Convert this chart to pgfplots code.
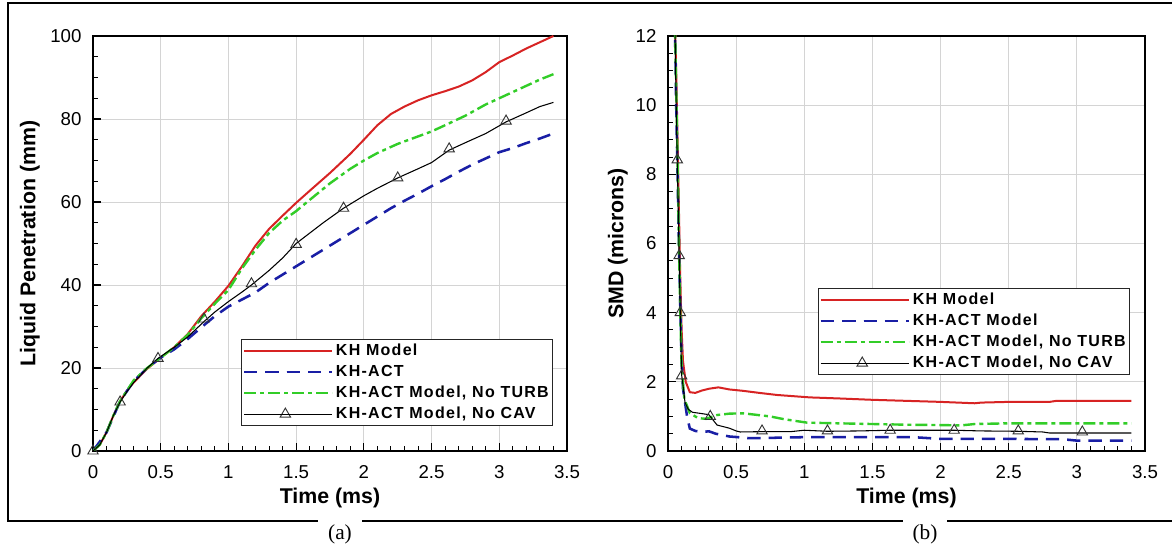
\documentclass[border=0pt]{standalone}
\usepackage{fontspec}
\setmainfont{Liberation Sans}
\newfontfamily\serif{Liberation Serif}
\newfontfamily\legfont[LetterSpace=8]{Liberation Sans}
\usepackage{pgfplots}
\pgfplotsset{compat=1.18}

\definecolor{kred}{RGB}{215,35,35}
\definecolor{kblue}{RGB}{25,30,165}
\definecolor{kgreen}{RGB}{50,205,40}

\newcommand{\labfont}{\bfseries\fontsize{16}{18}\selectfont}

\pgfplotsset{
 panel/.style={
  scale only axis, height=311.25pt,
  xmin=0, xmax=3.5, xtick={0,0.5,1,1.5,2,2.5,3,3.5},
  minor x tick num=4, minor y tick num=3,
  tick pos=left, tick align=inside,
  grid=major, major grid style={draw=black!17, line width=0.7pt},
  axis line style={line width=1.3pt},
  major tick style={black,line width=0.9pt}, major tick length=6pt,
  minor tick style={black,line width=0.7pt}, minor tick length=3.5pt,
  /pgf/number format/assume math mode=true,
  ticklabel style={font=\fontsize{14}{16}\selectfont},
  xticklabel style={inner sep=0pt, anchor=center, yshift=-15.75pt},
  yticklabel style={inner sep=0pt, anchor=east, xshift=-8.5pt},
  xlabel={Time (ms)},
  every axis x label/.style={at={(axis description cs:0.5,-0.113)}, anchor=center, font=\labfont},
  clip mode=individual,
  legend cell align=left,
  legend style={draw=black!85, line width=0.8pt, fill=white, anchor=north west,
    inner xsep=1pt, inner ysep=1pt,
    font=\legfont\bfseries\fontsize{12}{14}\selectfont,
    nodes={inner ysep=2.1pt, inner xsep=2pt, text height=9pt, text depth=2.5pt}},
  legend image code/.code={\draw[##1] (0pt,0pt) -- (62pt,0pt); \path (0pt,0pt) -- (66pt,0pt);},
 },
 khs/.style={color=kred, line width=1.5pt, no marks},
 acts/.style={color=kblue, line width=1.9pt, no marks, dash pattern=on 10pt off 6pt},
 turbs/.style={color=kgreen, line width=1.8pt, no marks, dash pattern=on 9pt off 3pt on 3pt off 3pt},
 cavs/.style={color=black, line width=0.8pt, no marks},
 trimarks/.style={only marks, mark=triangle, mark size=4.5pt, mark options={draw=black!80, line width=0.7pt, fill=none},
   legend image code/.code={\draw[black, line width=0.8pt] (0pt,0pt) -- (62pt,0pt);
     \draw[black!80, line width=0.7pt] plot[mark=triangle, mark size=4.5pt] coordinates {(31pt,0pt)};
     \path (0pt,0pt) -- (66pt,0pt);}},
}

\begin{document}
\begin{tikzpicture}
\useasboundingbox (0pt,0pt) rectangle (879pt,409.5pt);

% ---------------- panel (a) ----------------
\begin{axis}[panel, at={(69.75pt,71.25pt)}, anchor=south west, width=355.5pt,
  ymin=0, ymax=100, ytick={0,20,40,60,80,100},
  ylabel={Liquid Penetration (mm)},
  every axis y label/.style={at={(axis description cs:-0.133,0.5)}, rotate=90, anchor=center, font=\labfont},
  legend style={at={(0.312,0.270)}}]
\addplot[khs] coordinates {
(0,0) (0.05,1.5) (0.1,4.5) (0.15,8.5) (0.2,12) (0.25,14.5) (0.3,16.5) (0.4,19.8)
(0.5,22.5) (0.6,25) (0.7,28.2) (0.8,32.5) (0.9,36) (1.0,39.8) (1.1,44.5) (1.2,49.5)
(1.3,53.5) (1.4,56.7) (1.5,59.8) (1.6,62.7) (1.75,67) (1.9,71.6) (2.0,75) (2.1,78.5)
(2.2,81.2) (2.3,83) (2.4,84.5) (2.5,85.7) (2.6,86.7) (2.7,87.8) (2.8,89.3) (2.9,91.3)
(3.0,93.7) (3.1,95.3) (3.2,97) (3.3,98.5) (3.4,100)};
\addlegendentry{KH Model}
\addplot[acts] coordinates {
(0,0) (0.1,4.5) (0.2,12) (0.3,16.8) (0.4,20) (0.5,22.5) (0.6,24.5) (0.7,27) (0.8,29.8)
(0.9,32.5) (1.0,34.8) (1.1,36.5) (1.2,38.2) (1.3,40.5) (1.4,42.5) (1.5,44.5) (1.6,46.5)
(1.7,48.5) (1.8,50.5) (1.9,52.5) (2.0,54.5) (2.1,56.5) (2.2,58.5) (2.3,60.3) (2.4,62)
(2.5,63.8) (2.6,65.5) (2.7,67.3) (2.8,69) (2.9,70.5) (3.0,72) (3.1,73) (3.2,74.2)
(3.3,75.3) (3.4,76.5)};
\addlegendentry{KH-ACT}
\addplot[turbs] coordinates {
(0,0) (0.05,1.5) (0.1,4.5) (0.15,8.5) (0.2,12) (0.3,17) (0.4,20) (0.5,22.5) (0.6,25)
(0.7,28) (0.8,32) (0.9,35.5) (1.0,38.8) (1.1,44) (1.2,48.5) (1.3,52.5) (1.4,55.5)
(1.5,57.8) (1.6,60.5) (1.75,64.5) (1.9,68) (2.0,70) (2.1,71.8) (2.25,74) (2.4,75.8)
(2.5,77) (2.6,78.5) (2.75,80.8) (2.9,83.5) (3.0,85) (3.1,86.5) (3.2,88) (3.3,89.5) (3.4,90.8)};
\addlegendentry{KH-ACT Model, No TURB}
\addplot[cavs, forget plot] coordinates {
(0,0) (0.05,1.5) (0.1,4.5) (0.15,8.5) (0.2,11.8) (0.25,14.3) (0.3,16.5) (0.4,20)
(0.48,22.3) (0.6,25) (0.7,27.5) (0.82,31.2) (0.9,33.5) (1.0,36) (1.1,38.3) (1.17,40)
(1.3,43.5) (1.4,46.5) (1.5,50) (1.6,52.5) (1.7,55) (1.85,58.5) (2.0,61.5) (2.1,63.3)
(2.25,65.8) (2.4,68) (2.5,69.5) (2.63,72.5) (2.75,74.3) (2.9,76.5) (3.05,79.3)
(3.2,81.5) (3.3,83) (3.4,84)};
\addplot[trimarks] coordinates {
(0,0) (0.2,11.8) (0.48,22.3) (0.82,31.8) (1.17,40.3) (1.5,49.8) (1.85,58.5)
(2.25,65.8) (2.63,72.8) (3.05,79.5)};
\addlegendentry{KH-ACT Model, No CAV}
\end{axis}

% ---------------- panel (b) ----------------
\begin{axis}[panel, at={(501pt,71.25pt)}, anchor=south west, width=357.75pt,
  ymin=0, ymax=12, ytick={0,2,4,6,8,10,12},
  ylabel={SMD (microns)},
  every axis y label/.style={at={(axis description cs:-0.105,0.5)}, rotate=90, anchor=center, font=\labfont},
  legend style={at={(0.314,0.393)}}]
\addplot[khs] coordinates {
(0.05,12.5) (0.06,11) (0.07,9) (0.08,7) (0.09,5) (0.1,3.5) (0.11,2.6) (0.13,2.0)
(0.16,1.7) (0.2,1.68) (0.25,1.75) (0.3,1.8) (0.37,1.84) (0.45,1.78) (0.55,1.74)
(0.67,1.68) (0.8,1.62) (1.04,1.55) (1.25,1.52) (1.5,1.48) (1.75,1.45) (2.0,1.42)
(2.25,1.38) (2.3,1.4) (2.5,1.42) (2.8,1.42) (2.85,1.45) (3.0,1.45) (3.4,1.45)};
\addlegendentry{KH Model}
\addplot[acts] coordinates {
(0.05,12.5) (0.06,10) (0.07,8) (0.08,6) (0.09,4.2) (0.1,2.6) (0.11,1.8) (0.125,1.4)
(0.14,1.0) (0.16,0.65) (0.2,0.58) (0.25,0.55) (0.3,0.57) (0.35,0.5) (0.45,0.42)
(0.6,0.37) (0.75,0.38) (1.0,0.4) (1.5,0.4) (1.8,0.4) (2.0,0.35) (2.5,0.35) (2.9,0.34)
(3.0,0.3) (3.4,0.3)};
\addlegendentry{KH-ACT Model}
\addplot[turbs] coordinates {
(0.05,12.5) (0.06,10.5) (0.07,8.5) (0.08,6) (0.09,4.0) (0.1,2.4) (0.12,1.5) (0.16,1.1)
(0.22,0.95) (0.28,0.93) (0.36,1.04) (0.45,1.08) (0.55,1.09) (0.75,1.0) (0.85,0.92)
(1.02,0.82) (1.25,0.8) (1.5,0.78) (1.75,0.76) (2.0,0.75) (2.15,0.74) (2.25,0.78)
(2.5,0.8) (3.0,0.8) (3.4,0.8)};
\addlegendentry{KH-ACT Model, No TURB}
\addplot[cavs, forget plot] coordinates {
(0.05,12.5) (0.06,10) (0.068,8.4) (0.075,7) (0.082,5.6) (0.09,4.0) (0.1,2.2) (0.11,1.9)
(0.125,1.4) (0.15,1.2) (0.18,1.12) (0.25,1.08) (0.3,1.05) (0.33,0.9) (0.36,0.75)
(0.45,0.66) (0.5,0.58) (0.53,0.55) (0.7,0.56) (0.9,0.56) (1.0,0.6) (1.17,0.57)
(1.4,0.58) (1.63,0.6) (1.9,0.6) (2.1,0.6) (2.3,0.58) (2.57,0.57) (2.75,0.55)
(2.8,0.52) (3.04,0.52) (3.4,0.52)};
\addplot[trimarks] coordinates {
(0.068,8.42) (0.082,5.65) (0.09,4.0) (0.10,2.17) (0.31,1.0) (0.69,0.58) (1.17,0.58)
(1.63,0.6) (2.1,0.6) (2.57,0.58) (3.04,0.55)};
\addlegendentry{KH-ACT Model, No CAV}
\end{axis}

% ---------------- outer frame and captions ----------------
\draw[line width=1.2pt] (879pt,407.25pt) -- (6pt,407.25pt) -- (6pt,18.75pt) -- (238.5pt,18.75pt);
\draw[line width=1.6pt] (271.5pt,18.75pt) -- (677.25pt,18.75pt);
\draw[line width=1.6pt] (710.25pt,18.75pt) -- (879pt,18.75pt);
\node[font=\serif\fontsize{16}{18}\selectfont] at (255pt,9pt) {(a)};
\node[font=\serif\fontsize{16}{18}\selectfont] at (693.75pt,9pt) {(b)};
\end{tikzpicture}
\end{document}
